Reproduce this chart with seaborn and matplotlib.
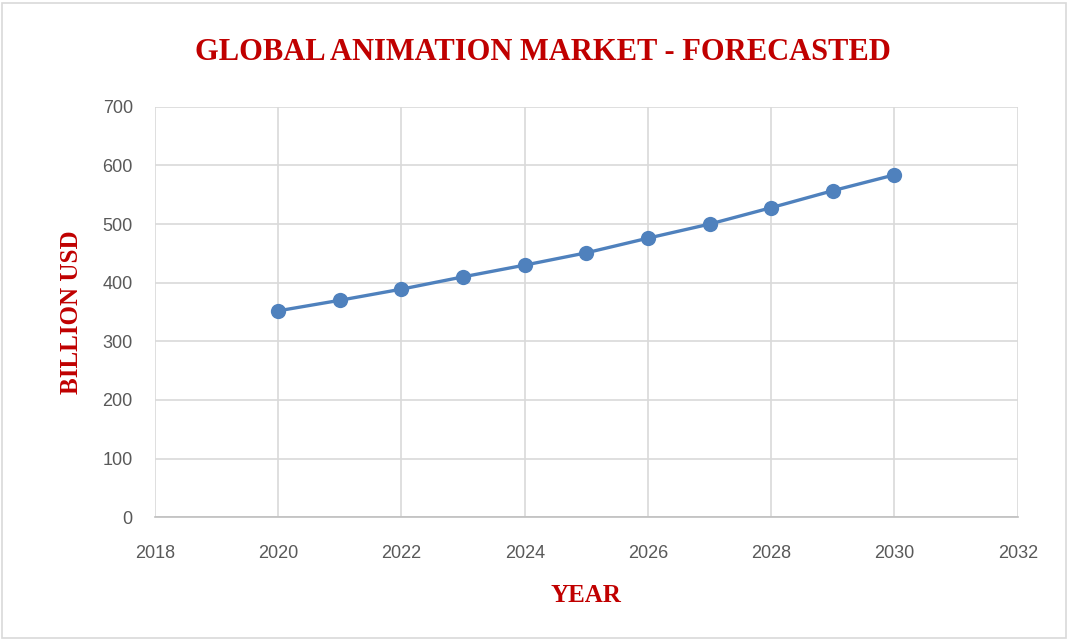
import pandas as pd
import seaborn as sns
import matplotlib.pyplot as plt
from matplotlib.patches import Rectangle

# forecast values
years = [2020, 2021, 2022, 2023, 2024, 2025, 2026, 2027, 2028, 2029, 2030]
market = [352, 370, 389, 410, 430, 451, 476, 500, 528, 557, 584]
x_ticks = [2018, 2020, 2022, 2024, 2026, 2028, 2030, 2032]
y_ticks = [0, 100, 200, 300, 400, 500, 600, 700]

df = pd.DataFrame({'year': years, 'billion_usd': market})

sns.set_style('white')
plt.rcParams['font.family'] = ['Liberation Sans', 'DejaVu Sans']

fig = plt.figure(figsize=(10.69, 6.4), dpi=100)
ax = fig.add_axes([0.145, 0.192, 0.807, 0.641])

sns.lineplot(data=df, x='year', y='billion_usd', ax=ax, color='#4F81BD',
             linewidth=2.4, marker='o', markersize=11, markeredgewidth=0)

ax.set_xlim(2018, 2032)
ax.set_ylim(0, 700)
ax.set_xticks(x_ticks)
ax.set_yticks(y_ticks)
ax.grid(True, color='#D9D9D9', linewidth=1.2)
ax.set_axisbelow(True)
for s in ['top', 'right', 'left']:
    ax.spines[s].set_visible(False)
ax.spines['bottom'].set_color('#BFBFBF')
ax.spines['bottom'].set_linewidth(1.2)
ax.tick_params(axis='both', length=0, labelsize=13, labelcolor='#595959')
ax.tick_params(axis='x', pad=20)
ax.tick_params(axis='y', pad=16)

red = '#C00000'
serif = ['Liberation Serif', 'DejaVu Serif']
fig.text(0.508, 0.918, 'GLOBAL ANIMATION MARKET - FORECASTED', ha='center', va='center',
         fontsize=22, fontweight='bold', color=red, family=serif)
ax.set_xlabel('YEAR', fontsize=18, fontweight='bold', color=red, family=serif, labelpad=16)
ax.set_ylabel('BILLION USD', fontsize=18, fontweight='bold', color=red, family=serif, labelpad=14)

fig.patches.append(Rectangle((0.002, 0.003), 0.995, 0.993, transform=fig.transFigure,
                             fill=False, edgecolor='#D9D9D9', linewidth=1.2))

fig.savefig('out.png', dpi=100)
